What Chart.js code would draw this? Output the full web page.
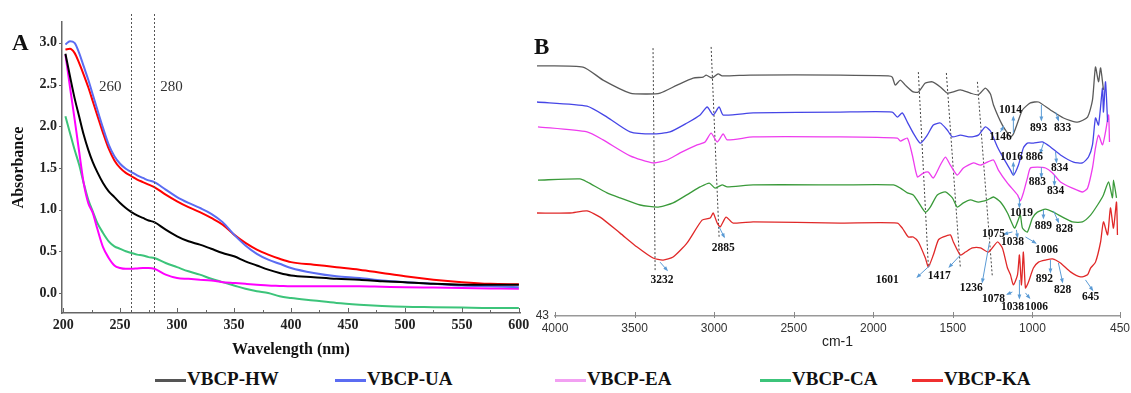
<!DOCTYPE html>
<html lang="en">
<head>
<meta charset="UTF-8">
<title>VBCP UV-Vis and FTIR spectra</title>
<script src="https://cdn.jsdelivr.net/npm/chart.js"></script>
<style>
  body { margin: 0; background: #fff; }
  #wrap { position: relative; width: 1131px; height: 393px; overflow: hidden; }
  #uv { position: absolute; left: 0; top: 0; }
  #ftir { position: absolute; left: 500px; top: 0; }
  .panel { position: absolute; font: bold 23px "Liberation Serif"; line-height: 1; color: #111; }
  .key { position: absolute; top: 368px; font: bold 19px "Liberation Serif"; white-space: nowrap; color: #111; }
  .key i { display: inline-block; width: 31px; height: 2.5px; vertical-align: middle; margin-right: 1px; }
</style>
</head>
<body>
<div id="wrap">
  <canvas id="uv" width="540" height="360"></canvas>
  <canvas id="ftir" width="650" height="360"></canvas>
  <div class="panel" style="left:12px; top:31px;">A</div>
  <div class="panel" style="left:534px; top:35px;">B</div>
  <div id="keys"></div>
</div>

<script>
  const seriesNames = ['VBCP-HW', 'VBCP-UA', 'VBCP-EA', 'VBCP-CA', 'VBCP-KA'];

  // ---- panel A : UV-Vis absorbance ----
  const wavelengths = [202, 206, 210, 214, 218, 222, 226, 230, 235, 240, 245, 250, 255, 260, 265, 270, 275, 280,
                       290, 300, 310, 320, 330, 340, 350, 360, 370, 380, 390, 400, 420, 440, 460, 480, 500, 525, 550, 575, 600];
  const absHW = [2.87, 2.60, 2.34, 2.12, 1.90, 1.72, 1.57, 1.45, 1.32, 1.22, 1.15, 1.08, 1.02, 0.97, 0.93, 0.90, 0.87, 0.85,
                 0.76, 0.68, 0.62, 0.58, 0.53, 0.48, 0.44, 0.38, 0.33, 0.28, 0.24, 0.21, 0.19, 0.17, 0.16, 0.14, 0.13, 0.11, 0.10, 0.10, 0.10];
  const absUA = [2.98, 3.02, 3.00, 2.88, 2.72, 2.56, 2.38, 2.20, 1.98, 1.78, 1.64, 1.55, 1.49, 1.45, 1.41, 1.38, 1.35, 1.33,
                 1.24, 1.15, 1.08, 1.02, 0.95, 0.85, 0.70, 0.57, 0.47, 0.40, 0.35, 0.30, 0.24, 0.20, 0.18, 0.15, 0.13, 0.11, 0.09, 0.08, 0.07];
  const absEA = [2.86, 2.47, 2.09, 1.70, 1.32, 1.08, 0.96, 0.77, 0.55, 0.42, 0.33, 0.30, 0.29, 0.29, 0.295, 0.30, 0.30, 0.29,
                 0.22, 0.18, 0.17, 0.16, 0.15, 0.13, 0.12, 0.11, 0.10, 0.09, 0.085, 0.08, 0.08, 0.08, 0.08, 0.075, 0.07, 0.065, 0.06, 0.055, 0.05];
  const absCA = [2.12, 1.92, 1.72, 1.54, 1.32, 1.12, 0.98, 0.84, 0.72, 0.62, 0.56, 0.53, 0.50, 0.48, 0.46, 0.45, 0.43, 0.42,
                 0.36, 0.31, 0.26, 0.22, 0.17, 0.13, 0.09, 0.05, 0.02, 0.00, -0.04, -0.06, -0.09, -0.12, -0.14, -0.155, -0.165, -0.17, -0.175, -0.18, -0.18];
  const absKA = [2.92, 2.93, 2.88, 2.76, 2.62, 2.47, 2.30, 2.13, 1.92, 1.73, 1.59, 1.50, 1.44, 1.40, 1.36, 1.33, 1.30, 1.27,
                 1.18, 1.10, 1.03, 0.97, 0.90, 0.82, 0.70, 0.60, 0.52, 0.46, 0.41, 0.37, 0.34, 0.31, 0.28, 0.24, 0.20, 0.16, 0.13, 0.11, 0.105];
  const waveTicks = [200, 250, 300, 350, 400, 450, 500, 550, 600];
  const absTicks = [0, 0.5, 1.0, 1.5, 2.0, 2.5, 3.0];
  const markedWavelengths = [260, 280];
  const markLabelAbs = 2.47;

  // ---- panel B : FTIR (wavenumber cm-1, transmittance a.u.) ----
  const cmHW = [4113, 3824, 3698, 3528, 3421, 3340, 3233, 3132, 3069, 3050, 3013, 2975, 2950, 2774, 2208, 1906, 1881, 1862, 1830, 1799,
                1749, 1717, 1673, 1629, 1579, 1535, 1497, 1453, 1390, 1340, 1296, 1264, 1245, 1189, 1138, 1120, 1094, 1063, 1013, 962,
                887, 805, 717, 654, 623, 604, 585, 572, 554];
  const tHW = [127.5, 127.1, 122.7, 118.3, 118.0, 118.3, 121.0, 123.4, 123.7, 124.4, 123.4, 124.8, 124.1, 124.4, 124.4, 124.1, 123.7, 121.0, 122.7, 121.0,
               118.7, 118.7, 121.7, 122.1, 120.4, 118.3, 118.7, 119.4, 118.3, 117.7, 120.0, 118.0, 114.3, 107.5, 103.5, 104.5, 108.2, 112.6, 115.0, 115.3,
               112.6, 109.9, 108.5, 110.2, 115.9, 127.1, 122.1, 126.8, 119.4];
  const cmUA = [4113, 3799, 3673, 3528, 3384, 3277, 3170, 3088, 3044, 3006, 2969, 2943, 2755, 2208, 1881, 1849, 1818, 1786, 1749, 1705,
                1661, 1623, 1579, 1535, 1503, 1453, 1390, 1340, 1296, 1264, 1220, 1183, 1138, 1120, 1088, 1057, 1032, 994, 937, 887,
                824, 742, 686, 648, 623, 604, 585, 560, 554, 541, 528];
  const tUA = [115.3, 113.9, 110.2, 105.2, 104.5, 105.2, 108.2, 110.9, 113.6, 110.9, 113.6, 110.9, 111.6, 111.9, 111.9, 110.2, 111.6, 108.5, 104.8, 101.4,
               104.1, 107.5, 108.2, 105.8, 103.5, 104.1, 103.5, 104.1, 106.9, 105.5, 100.1, 96.4, 92.3, 90.6, 94.0, 99.8, 101.4, 101.4, 101.8, 100.1,
               97.4, 95.0, 94.7, 96.7, 100.8, 109.9, 107.5, 120.0, 111.9, 122.1, 108.5];
  const cmEA = [4107, 3799, 3698, 3528, 3384, 3296, 3214, 3107, 3057, 3019, 2981, 2943, 2918, 2755, 2208, 1849, 1830, 1786, 1755, 1723,
                1686, 1654, 1623, 1579, 1547, 1516, 1472, 1434, 1371, 1327, 1283, 1245, 1214, 1157, 1094, 1076, 1057, 1032, 1013, 969,
                918, 874, 824, 749, 686, 654, 623, 604, 585, 560, 541, 522, 516];
  const tEA = [106.9, 105.2, 102.5, 97.1, 94.7, 95.7, 98.1, 100.8, 101.8, 104.8, 101.8, 104.5, 102.5, 103.5, 103.5, 103.1, 102.1, 103.1, 97.4, 90.0,
               91.3, 91.6, 89.6, 94.0, 96.7, 94.0, 90.6, 93.0, 94.7, 94.0, 95.0, 95.7, 92.3, 87.9, 83.9, 81.9, 84.6, 89.6, 93.0, 93.3,
               93.0, 91.3, 88.3, 86.2, 84.9, 86.2, 93.0, 99.8, 104.1, 100.8, 105.2, 110.9, 101.8];
  const cmCA = [4107, 3843, 3799, 3673, 3591, 3465, 3352, 3258, 3151, 3088, 3031, 2994, 2950, 2918, 2755, 2208, 1874, 1830, 1786, 1749,
                1717, 1673, 1642, 1598, 1547, 1503, 1472, 1434, 1390, 1340, 1283, 1245, 1201, 1157, 1113, 1094, 1076, 1063, 1032, 1000,
                969, 918, 868, 811, 749, 686, 635, 591, 554, 522, 497, 491, 472];
  const tCA = [88.9, 89.3, 88.3, 84.6, 82.9, 80.5, 79.8, 81.2, 84.6, 86.6, 87.9, 86.2, 87.3, 86.6, 87.3, 87.3, 87.3, 86.2, 84.6, 83.9,
               81.5, 78.1, 79.8, 83.9, 84.9, 82.9, 79.8, 81.2, 82.2, 81.5, 82.2, 83.2, 81.5, 77.8, 72.7, 74.8, 77.1, 72.7, 71.4, 76.1,
               78.1, 79.1, 78.1, 76.4, 74.8, 74.8, 77.1, 80.5, 83.9, 88.3, 82.9, 88.9, 82.9];
  const cmKA = [4113, 3906, 3799, 3717, 3591, 3484, 3384, 3321, 3258, 3170, 3076, 3025, 3006, 2981, 2962, 2925, 2881, 2755, 2208, 1849,
                1818, 1780, 1749, 1717, 1673, 1654, 1623, 1591, 1560, 1516, 1497, 1453, 1421, 1377, 1327, 1277, 1220, 1189, 1157, 1138,
                1120, 1094, 1082, 1069, 1057, 1044, 1025, 994, 962, 918, 874, 824, 761, 698, 654, 635, 604, 572, 554, 528,
                510, 491, 472, 466];
  const tKA = [77.8, 77.8, 78.5, 76.4, 71.0, 66.3, 62.6, 61.9, 62.9, 67.7, 75.4, 76.1, 77.8, 74.4, 73.1, 76.4, 74.4, 74.8, 74.4, 74.4,
               72.7, 69.7, 69.7, 68.0, 62.6, 59.6, 63.6, 68.7, 69.7, 70.4, 68.0, 63.6, 64.6, 66.0, 66.0, 64.6, 68.0, 66.0, 59.2, 56.9,
               53.5, 56.9, 63.6, 53.5, 64.6, 52.5, 54.5, 59.2, 61.2, 61.9, 62.3, 60.9, 57.9, 56.2, 56.9, 59.2, 61.2, 68.0, 74.8, 70.4,
               79.5, 72.7, 81.5, 70.4];
  const cmTicks = [4000, 3500, 3000, 2500, 2000, 1500, 1000, 450];
  const tAxisMin = 43;

  // dotted guide lines: [top, bottom]
  const guideCm = [[3384, 3371], [3019, 2969], [1717, 1654], [1541, 1453], [1346, 1252]];
  const guideT = [[133.5, 58.5], [133.9, 69.7], [125.4, 59.6], [125.1, 59.2], [122.1, 56.2]];

  // peak labels and their arrows
  const peakText = ['3232', '2885', '1014', '1146', '893', '833', '1016', '886', '834', '883', '834', '1019', '889', '828',
                    '1075', '1038', '1006', '1601', '1417', '1236', '892', '828', '645', '1078', '1038', '1006'];
  const peakCm = [3327, 2943, 1138, 1201, 962, 811, 1132, 988, 830, 969, 855, 1069, 931, 799,
                  1245, 1126, 912, 1912, 1585, 1384, 925, 811, 635, 1245, 1126, 975];
  const peakT = [55.2, 66.0, 112.6, 103.5, 106.5, 106.5, 96.7, 96.7, 93.0, 88.3, 85.2, 77.8, 73.4, 72.4,
                 70.7, 68.0, 65.3, 55.2, 56.5, 52.5, 55.5, 51.8, 49.4, 48.7, 46.0, 46.0];
  const arrowFromCm = [3340, 2969, 1120, 1201, 944, 855, 1120, 931, 855, 944, 862, 1082, 931, 868,
                       1126, 1101, 1044, 1642, 1453, 1271, 887, 837, 667, 1126, 1082, 1044];
  const arrowFromT = [61.2, 73.1, 104.8, 105.2, 114.3, 111.9, 90.6, 101.4, 98.4, 93.3, 90.6, 82.9, 78.8, 78.5,
                      71.4, 72.1, 69.7, 60.2, 63.6, 67.7, 61.9, 60.9, 55.2, 51.1, 55.2, 50.8];
  const arrowToCm = [3296, 2937, 1120, 1183, 944, 837, 1120, 950, 849, 944, 862, 1082, 931, 837,
                     1176, 1094, 981, 1723, 1522, 1315, 887, 811, 623, 1157, 1082, 1019];
  const arrowToT = [58.5, 69.7, 110.2, 106.9, 109.2, 109.2, 94.7, 98.1, 95.0, 90.0, 87.3, 79.8, 76.1, 74.8,
                    70.7, 69.7, 67.7, 56.2, 59.6, 54.5, 57.9, 54.5, 51.8, 50.4, 49.1, 49.1];

  // colours
  const uvColors = ['#000000', '#5b6cf2', '#ff00ff', '#3cc47a', '#ff0000'];
  const irColors = ['#5a5a5a', '#4646e6', '#ee3cee', '#3a9a3a', '#e02828'];
  const keyColors = ['#555555', '#5b6cf2', '#f2a0f2', '#3cc47a', '#f03030'];
  const keyLeft = [155, 335, 555, 760, 912];

  // legend
  const keys = document.getElementById('keys');
  seriesNames.forEach((name, i) => {
    const d = document.createElement('div');
    d.className = 'key';
    d.style.left = keyLeft[i] + 'px';
    d.innerHTML = '<i style="background:' + keyColors[i] + '"></i>' + name;
    keys.appendChild(d);
  });

  const serifBold = (size) => ({ family: 'Liberation Serif', weight: 'bold', size: size });

  // ---------- Panel A ----------
  const uvSeries = [absHW, absUA, absEA, absCA, absKA];

  const uvExtras = {
    id: 'uvExtras',
    afterDatasetsDraw(chart) {
      const { ctx, chartArea: a, scales: { x, y } } = chart;
      ctx.save();
      // inward ticks on x axis, every 25 nm
      ctx.strokeStyle = '#666';
      ctx.lineWidth = 1;
      for (let w = 200; w <= 600; w += 25) {
        const px = Math.round(x.getPixelForValue(w)) + 0.5;
        const len = w % 50 === 0 ? 5 : 3;
        ctx.beginPath(); ctx.moveTo(px, a.bottom); ctx.lineTo(px, a.bottom - len); ctx.stroke();
      }
      absTicks.forEach(v => {
        const py = Math.round(y.getPixelForValue(v)) + 0.5;
        ctx.beginPath(); ctx.moveTo(a.left, py); ctx.lineTo(a.left - 3, py); ctx.stroke();
      });
      // dotted markers at 260 / 280 nm
      ctx.setLineDash([2, 2]);
      ctx.strokeStyle = '#555';
      markedWavelengths.forEach(w => {
        const px = Math.round(x.getPixelForValue(w)) + 0.5;
        ctx.beginPath(); ctx.moveTo(px, a.top - 8); ctx.lineTo(px, a.bottom); ctx.stroke();
      });
      ctx.setLineDash([]);
      ctx.font = '15px "Liberation Serif"';
      ctx.fillStyle = '#333';
      ctx.textBaseline = 'middle';
      const ly = y.getPixelForValue(markLabelAbs);
      ctx.textAlign = 'right';
      ctx.fillText(String(markedWavelengths[0]), x.getPixelForValue(markedWavelengths[0]) - 10, ly);
      ctx.textAlign = 'left';
      ctx.fillText(String(markedWavelengths[1]), x.getPixelForValue(markedWavelengths[1]) + 6, ly);
      ctx.restore();
    }
  };

  new Chart(document.getElementById('uv'), {
    type: 'line',
    data: {
      datasets: uvSeries.map((s, i) => ({
        label: seriesNames[i],
        data: wavelengths.map((w, k) => ({ x: w, y: s[k] })),
        borderColor: uvColors[i],
        borderWidth: 2,
        pointRadius: 0,
        cubicInterpolationMode: 'monotone'
      }))
    },
    options: {
      responsive: false,
      animation: false,
      devicePixelRatio: 1,
      layout: { padding: { top: 22, right: 20, left: 0, bottom: 0 } },
      plugins: { legend: { display: false }, tooltip: { enabled: false } },
      scales: {
        x: {
          type: 'linear', min: 199, max: 601,
          afterBuildTicks: s => { s.ticks = waveTicks.map(v => ({ value: v })); },
          afterFit: s => { s.height = 47; },
          grid: { display: false, drawTicks: false },
          border: { display: true, color: '#666', width: 1.5 },
          ticks: { padding: 4, color: '#222', font: serifBold(14), maxRotation: 0, autoSkip: false, callback: v => String(v) },
          title: { display: true, text: 'Wavelength (nm)', color: '#111', font: serifBold(16), padding: { top: 0, bottom: 1 } }
        },
        y: {
          min: -0.24, max: 3.25,
          afterBuildTicks: s => { s.ticks = absTicks.map(v => ({ value: v })); },
          afterFit: s => { s.width = 62; },
          grid: { display: false, drawTicks: false },
          border: { display: true, color: '#666', width: 1.5 },
          ticks: { padding: 5, color: '#222', font: serifBold(14), callback: v => v.toFixed(1) },
          title: { display: true, text: 'Absorbance', color: '#111', font: serifBold(16), padding: { top: 9, bottom: 0 } }
        }
      }
    },
    plugins: [uvExtras]
  });

  // ---------- Panel B ----------
  const irCm = [cmHW, cmUA, cmEA, cmCA, cmKA];
  const irT = [tHW, tUA, tEA, tCA, tKA];

  const irDatasets = irCm.map((cm, i) => ({
    label: seriesNames[i],
    data: cm.map((w, k) => ({ x: w, y: irT[i][k] })),
    borderColor: irColors[i],
    borderWidth: 1.3,
    pointRadius: 0,
    tension: 0.2,
    clip: false
  }));
  guideCm.forEach((g, i) => {
    irDatasets.push({
      data: [{ x: g[0], y: guideT[i][0] }, { x: g[1], y: guideT[i][1] }],
      borderColor: '#444',
      borderWidth: 1,
      borderDash: [2, 2],
      pointRadius: 0,
      tension: 0
    });
  });

  const irExtras = {
    id: 'irExtras',
    afterDatasetsDraw(chart) {
      const { ctx, chartArea: a, scales: { x, y } } = chart;
      ctx.save();
      // small ticks on the wavenumber axis
      ctx.strokeStyle = '#888';
      ctx.lineWidth = 1;
      cmTicks.forEach(v => {
        const px = Math.round(x.getPixelForValue(v)) + 0.5;
        ctx.beginPath(); ctx.moveTo(px, a.bottom + 2); ctx.lineTo(px, a.bottom - 4); ctx.stroke();
      });
      // arrows
      ctx.strokeStyle = '#5b9bd5';
      ctx.fillStyle = '#5b9bd5';
      peakText.forEach((t, i) => {
        const x1 = x.getPixelForValue(arrowFromCm[i]), y1 = y.getPixelForValue(arrowFromT[i]);
        const x2 = x.getPixelForValue(arrowToCm[i]), y2 = y.getPixelForValue(arrowToT[i]);
        const ang = Math.atan2(y2 - y1, x2 - x1);
        ctx.beginPath(); ctx.moveTo(x1, y1); ctx.lineTo(x2, y2); ctx.stroke();
        ctx.beginPath();
        ctx.moveTo(x2 + Math.cos(ang) * 1.5, y2 + Math.sin(ang) * 1.5);
        ctx.lineTo(x2 - Math.cos(ang - 0.5) * 4, y2 - Math.sin(ang - 0.5) * 4);
        ctx.lineTo(x2 - Math.cos(ang + 0.5) * 4, y2 - Math.sin(ang + 0.5) * 4);
        ctx.closePath(); ctx.fill();
      });
      // peak numbers
      ctx.font = 'bold 11.5px "Liberation Serif"';
      ctx.fillStyle = '#111';
      ctx.textAlign = 'center';
      ctx.textBaseline = 'middle';
      peakText.forEach((t, i) => {
        ctx.fillText(t, x.getPixelForValue(peakCm[i]), y.getPixelForValue(peakT[i]));
      });
      ctx.restore();
    }
  };

  new Chart(document.getElementById('ftir'), {
    type: 'line',
    data: { datasets: irDatasets },
    options: {
      responsive: false,
      animation: false,
      devicePixelRatio: 1,
      layout: { padding: { top: 20, right: 30, left: 0, bottom: 0 } },
      plugins: { legend: { display: false }, tooltip: { enabled: false } },
      scales: {
        x: {
          type: 'linear', min: 450, max: 4000, reverse: true,
          afterBuildTicks: s => { s.ticks = cmTicks.map(v => ({ value: v })); },
          afterFit: s => { s.height = 44; },
          grid: { display: false, drawTicks: false },
          border: { display: true, color: '#999', width: 1.5 },
          ticks: { padding: 5, color: '#333', font: { family: 'Liberation Sans', size: 12 }, maxRotation: 0, autoSkip: false, callback: v => String(v) },
          title: { display: true, text: 'cm-1', color: '#222', font: { family: 'Liberation Sans', size: 14 }, padding: { top: 0, bottom: 9 } }
        },
        y: {
          min: tAxisMin, max: 143,
          afterBuildTicks: s => { s.ticks = [{ value: tAxisMin }]; },
          afterFit: s => { s.width = 55; },
          grid: { display: false, drawTicks: false },
          border: { display: false },
          ticks: { padding: 6, color: '#333', font: { family: 'Liberation Sans', size: 12 }, callback: v => String(v) }
        }
      }
    },
    plugins: [irExtras]
  });
</script>
</body>
</html>
